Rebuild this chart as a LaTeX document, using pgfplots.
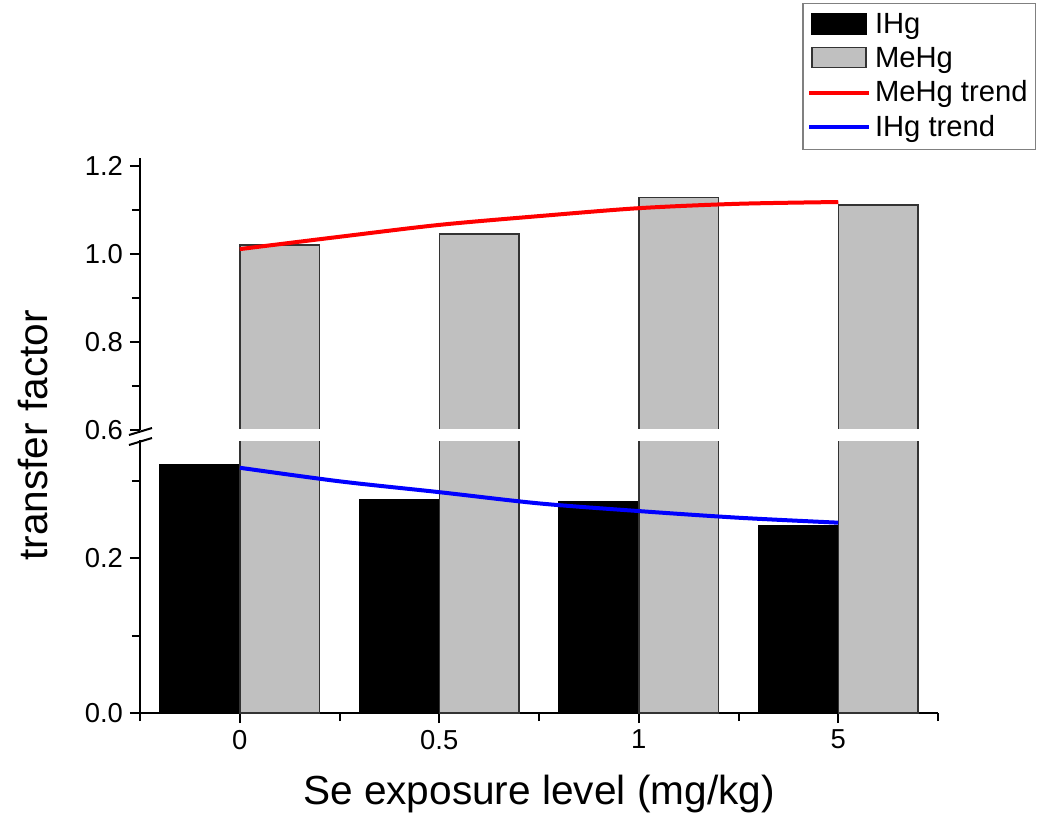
\documentclass[border=0pt]{standalone}
\usepackage{fontspec}
\setmainfont{Liberation Sans}
\usepackage{pgfplots}
\pgfplotsset{compat=1.18}
\usetikzlibrary{calc}
\definecolor{bargray}{HTML}{C0C0C0}
\definecolor{baredge}{HTML}{333333}

\pgfplotsset{
  brk/.style={
    scale only axis, width=399pt,
    xmin=-0.5, xmax=3.5,
    axis y line*=left,
    axis line style={-, line width=1pt},
    tick style={line width=1pt, black},
    tick align=outside,
    major tick length=5pt, minor tick length=4pt,
    /pgf/number format/assume math mode=true,
    /pgf/number format/fixed, /pgf/number format/fixed zerofill,
    /pgf/number format/precision=1,
    ticklabel style={font=\fontsize{13.7}{16}\selectfont},
  },
  ihg/.style={ybar, bar width=0.4, bar shift=-0.2, fill=black, draw=black, line width=0.75pt},
  mehg/.style={ybar, bar width=0.4, bar shift=0.2, fill=bargray, draw=baredge, line width=0.75pt},
  barlegend/.style={legend image code/.code={\draw[##1] (1.5pt,-4.5pt) rectangle (28.5pt,5.5pt);}},
  linelegend/.style={legend image code/.code={\draw[##1] (0pt,0pt) -- (30pt,0pt);}},
}

\pgfplotstableread{
x   ihg    mehg
0   0.321  1.0205
1   0.2748 1.0455
2   0.2727 1.128
3   0.2417 1.111
}\bars

\begin{document}
\begin{tikzpicture}
% lower part
\begin{axis}[brk, name=lower, height=136.5pt,
    ymin=0, ymax=0.3523,
    ytick={0,0.2}, minor ytick={0.1,0.3},
    axis x line*=bottom,
    xtick={0,1,2,3}, xticklabels={0,0.5,1,5},
    minor xtick={-0.5,0.5,1.5,2.5,3.5},
    xticklabel style={/pgf/number format/fixed zerofill=false},
    xlabel={Se exposure level (mg/kg)},
    xlabel style={font=\fontsize{20.3}{24}\selectfont, yshift=-6pt},
]
\addplot[ihg] table[x=x, y=ihg] {\bars};
\addplot[mehg] table[x=x, y=mehg] {\bars};
\addplot[blue, line width=2pt, smooth] coordinates {
  (0,0.3165) (0.5,0.299) (1,0.285) (1.5,0.2705) (2,0.2606) (2.5,0.252) (3,0.2456)};
\end{axis}
% upper part
\begin{axis}[brk, name=upper, height=136pt,
    at={($(lower.north west)+(0,5pt)$)}, anchor=south west,
    ymin=0.6, ymax=1.218,
    ytick={0.6,0.8,1.0,1.2}, minor ytick={0.7,0.9,1.1},
    axis x line=none,
    legend style={at={(1.123,1.57)}, anchor=north east,
      draw=gray, line width=0.6pt,
      font=\fontsize{14.6}{18}\selectfont,
      row sep=1.2pt, inner xsep=2pt, inner ysep=3pt,
      /tikz/every even column/.append style={column sep=3pt},
      cells={anchor=west}},
]
\addlegendimage{ihg, barlegend}
\addlegendentry{IHg}
\addplot[mehg, barlegend] table[x=x, y=mehg] {\bars};
\addlegendentry{MeHg}
\addplot[red, line width=2pt, smooth, linelegend] coordinates {
  (0,1.011) (0.5,1.039) (1,1.066) (1.5,1.086) (2,1.104) (2.5,1.114) (3,1.118)};
\addlegendentry{MeHg trend}
\addlegendimage{blue, line width=2pt, linelegend}
\addlegendentry{IHg trend}
\end{axis}
% gap between the two parts
\fill[white] ($(lower.north west)+(0.6pt,-0.6pt)$) rectangle ($(upper.south east)+(0pt,0.6pt)$);
% break marks
\draw[line width=1pt] ($(lower.north west)+(-5.5pt,2.5pt)$) -- ($(lower.north west)+(6pt,6pt)$);
\draw[line width=1pt] ($(lower.north west)+(-5.5pt,-2.5pt)$) -- ($(lower.north west)+(6pt,1pt)$);
% y label
\node[rotate=90, font=\fontsize{20.3}{24}\selectfont] at ($(lower.north west)+(-53.5pt,2.25pt)$) {transfer factor};
% bounding box
\path ($(lower.south west)+(-70pt,-53.5pt)$) rectangle ($(lower.south west)+(449pt,356.5pt)$);
\end{tikzpicture}
\end{document}
